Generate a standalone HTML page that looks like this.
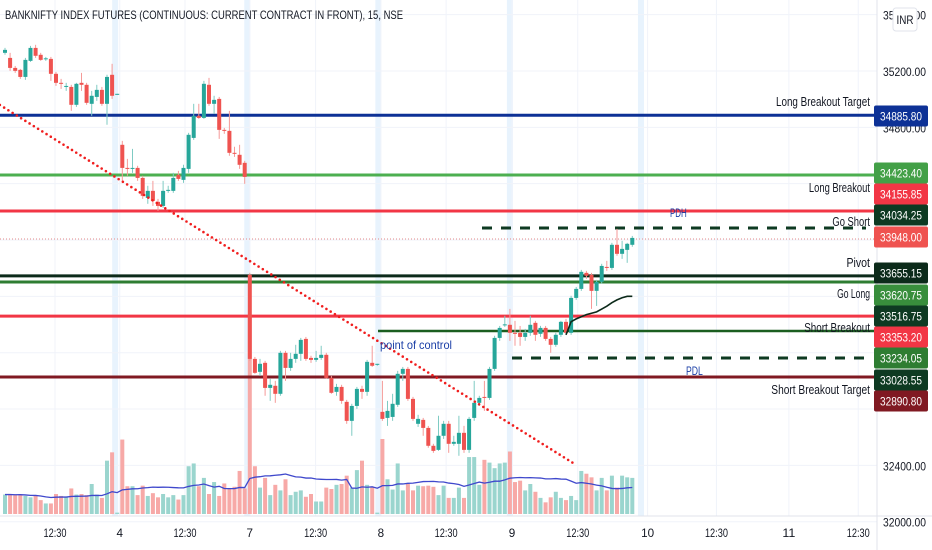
<!DOCTYPE html>
<html><head><meta charset="utf-8"><style>
html,body{margin:0;padding:0;background:#fff;}
body{width:932px;height:550px;overflow:hidden;font-family:"Liberation Sans",sans-serif;}
svg{display:block}
</style></head><body>
<svg id="chart" width="932" height="550" viewBox="0 0 932 550" xmlns="http://www.w3.org/2000/svg">
<g id="grid"></g>
<g id="vol"></g>
<g id="levels"></g>
<g id="candles"></g>
<g id="overlay"></g>
<g id="axis"></g>
<text x="5" y="19" font-size="12" fill="#131722" textLength="398" lengthAdjust="spacingAndGlyphs">BANKNIFTY INDEX FUTURES (CONTINUOUS: CURRENT CONTRACT IN FRONT), 15, NSE</text>
</svg>
<script>
const opens=[35329,35293,35222,35208,35158,35272,35364,35315,35283,35286,35180,35116,35087,35087,34960,35116,35102,34967,35016,35066,34967,35173,35031,
34676,34512,34505,34512,34441,34299,34349,34271,34242,34349,34349,34463,34427,34505,34725,34882,34867,35102,34967,35002,34782,34775,34619,34605,34548,
33753,33156,33064,33128,32950,32965,32908,33199,33092,33156,33192,33298,33163,33149,33163,33185,33021,32922,32957,32851,32716,32822,32943,32922,33128,33114,
32780,32737,32744,32830,33050,33085,32872,32695,32723,32666,32539,32510,32610,32695,32553,32553,32631,32510,32737,32844,32886,32879,33085,33305,33394,
33398,33341,33341,33312,33341,33412,33334,33376,33298,33256,33327,33419,33341,33589,33653,33767,33753,33639,33703,33809,33802,33966,33902,33930,33966];
const closes=[35350,35222,35201,35158,35279,35364,35308,35279,35290,35180,35116,35109,35094,34960,35109,35102,34974,35024,35066,34967,35158,35024,35038,
34512,34505,34512,34441,34314,34349,34278,34242,34349,34356,34441,34434,34512,34747,34882,34867,35109,34967,34995,34782,34775,34619,34612,34534,34448,
33156,33057,33121,32950,32972,32908,33199,33092,33156,33192,33291,33156,33149,33163,33185,33021,32915,32957,32858,32716,32822,32943,32922,33135,33107,33121,
32730,32787,32837,33050,33085,32872,32730,32730,32666,32539,32503,32610,32695,32553,32567,32631,32510,32730,32844,32879,32879,33085,33305,33376,33401,
33341,33334,33312,33341,33398,33327,33376,33298,33256,33327,33419,33341,33589,33653,33774,33746,33639,33703,33816,33802,33966,33902,33937,33973,34015];
const highs=[35364,35329,35236,35215,35293,35378,35386,35329,35300,35300,35194,35144,35116,35102,35116,35187,35116,35059,35102,35087,35173,35251,35038,
34704,34576,34647,34527,34456,34385,34420,34292,34420,34385,34477,34491,34534,34761,34967,34967,35130,35151,35024,35016,34796,34917,34662,34676,34562,
33767,33170,33156,33142,33014,33000,33213,33213,33199,33256,33305,33312,33178,33213,33249,33199,33035,32979,32972,32865,32837,32957,32965,33149,33249,33121,
33000,32858,32908,33071,33099,33099,32886,32759,32737,32680,32553,32752,32716,32716,32610,32752,32680,32744,33000,32894,33000,33099,33320,33390,33462,
33511,33426,33390,33369,33462,33426,33390,33390,33312,33341,33426,33440,33604,33667,33788,33781,33767,33717,33831,33852,33980,34079,33994,33980,34029];
const lows=[35315,35201,35187,35144,35137,35265,35293,35272,35272,35130,35094,35073,35059,34917,34945,35059,34960,34882,34988,34953,34818,35002,35031,
34420,34456,34477,34420,34292,34257,34242,34207,34228,34335,34335,34420,34406,34477,34711,34860,34860,34953,34896,34718,34754,34598,34590,34505,34399,
33142,33050,33035,32894,32858,32844,32894,33000,33071,33128,33142,33142,33128,33135,33149,33014,32908,32894,32837,32695,32610,32801,32872,32894,33099,33107,
32716,32680,32716,32815,33000,32858,32716,32673,32610,32525,32489,32503,32588,32489,32539,32468,32489,32489,32716,32822,32787,32865,33071,33284,33383,
33284,33249,33249,33284,33320,33284,33312,33284,33199,33242,33312,33327,33327,33575,33639,33724,33511,33532,33689,33781,33788,33888,33866,33838,33952];
const volumes=[70,70,68,70,65,60,65,50,38,38,72,65,62,92,70,72,68,108,70,58,192,222,5,
268,100,100,68,102,65,75,60,72,60,68,52,68,172,182,100,130,72,115,65,110,92,98,155,92,
715,172,95,130,68,105,85,125,68,80,85,62,72,45,45,95,90,105,108,138,95,158,192,105,98,5,
270,125,88,182,85,108,85,102,100,102,98,68,102,58,58,95,58,205,205,105,195,185,165,182,185,
225,115,120,85,108,80,58,42,60,80,58,50,65,50,155,145,132,85,130,85,138,95,138,132,130];
const vwapIdx=[110,111,112,113,114,115,116,117,118,119,120,121,122,123];
const vwapVals=[33327,33420,33440,33455,33470,33480,33490,33510,33530,33555,33575,33590,33600,33600];
const trendIdx=[-1,112];
const trendVals=[34959,32403];
const priceTicks=[35600,35200,34800,32400,32000];
const timeTicks=["12:30","4","12:30","7","12:30","8","12:30","9","12:30","10","12:30","11","12:30"];
const timeTickIdx=[9.8,22.5,35.3,48,60.9,73.7,86.5,99.4,112.3,126,139.5,153.7,167.3];
const dayBreakIdx=[21.6,47.5,73.2,99,124.7];
const gridPrices=[35600,35200,34800,34400,34000,33600,33200,32800,32400,32000];
const levelPrices=[34885.8,34462,34206,33745,33702,33460,33027];
const levelColors=["#0d3196","#4caf50","#f23645","#0c2a1a","#2e7d32","#f23645","#801922"];
const pocPrice=33354, pdhPrice=34085, pdlPrice=33162, lastPrice=34007;
const tagTexts=["34885.80","34423.40","34155.85","34034.25","33948.00","33655.15","33620.75","33516.75","33353.20","33234.05","33028.55","32890.80"];
const tagColors=["#0d3196","#43a047","#f23645","#0e3a22","#ef5350","#0c2a1a","#388e3c","#0e3a22","#f23645","#2e7d32","#0e3a22","#801922"];
const tagY=[116,173,194,215,237,273,295,316,337,358,380,401];
const lineLabels=["Long Breakout Target","Long Breakout","Go Short","Pivot","Go Long","Short Breakout","Short Breakout Target"];
const lineLabelY=[106,192,226,267,298,332,394];

const NS="http://www.w3.org/2000/svg";
const PLOT_R=877;
function X(i){return 5+i*5.1;}
function Y(p){return 71+(35200-p)/7.1;}
function VY(v){return 514-v/3.6;}
function mk(tag,attrs,parent){const e=document.createElementNS(NS,tag);for(const k in attrs)e.setAttribute(k,attrs[k]);parent.appendChild(e);return e;}
const grid=document.getElementById('grid'),vol=document.getElementById('vol'),lv=document.getElementById('levels'),cg=document.getElementById('candles'),ov=document.getElementById('overlay'),ax=document.getElementById('axis');

dayBreakIdx.forEach(d=>{const r=mk('rect',{x:X(d)-3,y:0,width:6,height:516,fill:'#e8f3fd'},grid);

});
timeTickIdx.forEach(t=>{const l=mk('line',{x1:X(t),x2:X(t),y1:0,y2:516,stroke:'#f0f3fa','stroke-width':1},grid);

});
gridPrices.forEach(p=>{const l=mk('line',{x1:0,x2:PLOT_R,y1:Y(p),y2:Y(p),stroke:'#f0f3fa','stroke-width':1},grid);

});

volumes.forEach((v,i)=>{const up=closes[i]>=opens[i];
const r=mk('rect',{x:X(i)-2,y:VY(v),width:4,height:v/3.6,fill:up?'#9ad5ce':'#f7a9a7'},vol);

});
let pts=[];for(let i=0;i<volumes.length;i++){const s=Math.max(0,i-19);let sum=0;for(let j=s;j<=i;j++)sum+=volumes[j];pts.push(X(i)+','+VY(sum/(i-s+1)));}
const vma=mk('polyline',{points:pts.join(' '),fill:'none',stroke:'#3f48cc','stroke-width':1.3},vol);



levelPrices.forEach((p,k)=>{const l=mk('line',{x1:0,x2:PLOT_R,y1:Y(p),y2:Y(p),stroke:levelColors[k],'stroke-width':3},lv);

});
let e;
e=mk('line',{x1:378,x2:PLOT_R,y1:Y(pocPrice),y2:Y(pocPrice),stroke:'#1b5e20','stroke-width':2.5},lv);


e=mk('line',{x1:482,x2:866,y1:Y(pdhPrice),y2:Y(pdhPrice),stroke:'#0e3a22','stroke-width':3,'stroke-dasharray':'10 9'},lv);


e=mk('line',{x1:512,x2:866,y1:Y(pdlPrice),y2:Y(pdlPrice),stroke:'#0e3a22','stroke-width':3,'stroke-dasharray':'10 9'},lv);


e=mk('line',{x1:0,x2:PLOT_R,y1:Y(lastPrice),y2:Y(lastPrice),stroke:'#e58a8a','stroke-width':1,'stroke-dasharray':'1 2'},lv);



opens.forEach((o,i)=>{const c=closes[i],up=c>=o,col=up?'#26a69a':'#ef5350';
const w=mk('line',{x1:X(i),x2:X(i),y1:Y(highs[i]),y2:Y(lows[i]),stroke:up?'#7fcbc3':'#f59a98','stroke-width':1},cg);


const top=Y(Math.max(o,c)),h=Math.max(1,Y(Math.min(o,c))-top);
const b=mk('rect',{x:X(i)-2,y:top,width:4,height:h,fill:col},cg);

});

e=mk('line',{x1:X(trendIdx[0]),y1:Y(trendVals[0]),x2:X(trendIdx[1]),y2:Y(trendVals[1]),stroke:'#f01e1e','stroke-width':2.6,'stroke-dasharray':'0 5','stroke-linecap':'round'},ov);


e=mk('polyline',{points:vwapIdx.map((v,k)=>X(v)+','+Y(vwapVals[k])).join(' '),fill:'none',stroke:'#0c2a1a','stroke-width':1.6},ov);



lineLabels.forEach((t,k)=>{const tx=mk('text',{x:870,y:lineLabelY[k],'text-anchor':'end','font-size':12.5,fill:'#131722',textLength:t.length*4.7,lengthAdjust:'spacingAndGlyphs'},ov);tx.textContent=t;

});
[['PDH',670,217,'#1a3ea6'],['PDL',686,375,'#1a3ea6'],['point of control',380,349,'#1a3ea6']].forEach(a=>{const tx=mk('text',{x:a[1],y:a[2],'font-size':12,fill:a[3],textLength:a[0].length*(a[0].length>5?4.5:5.6),lengthAdjust:'spacingAndGlyphs'},ov);tx.textContent=a[0];

});

e=mk('line',{x1:PLOT_R,x2:PLOT_R,y1:0,y2:550,stroke:'#e0e3eb'},ax);


e=mk('line',{x1:0,x2:932,y1:516,y2:516,stroke:'#e0e3eb'},ax);


priceTicks.forEach(p=>{const tx=mk('text',{x:883,y:Y(p)+5,'font-size':12,fill:'#131722',textLength:43,lengthAdjust:'spacingAndGlyphs'},ax);tx.textContent=p.toFixed(2);

});
timeTicks.forEach((t,k)=>{const tx=mk('text',{x:X(timeTickIdx[k]),y:537,'text-anchor':'middle','font-size':12,fill:'#131722',textLength:t.length>2?23:(t.length*6.5),lengthAdjust:'spacingAndGlyphs'},ax);tx.textContent=t;

});
tagTexts.forEach((t,k)=>{const g=mk('g',{},ax);


mk('rect',{x:874,y:tagY[k]-10.5,width:54,height:21,rx:2,fill:tagColors[k]},g);
const tx=mk('text',{x:880,y:tagY[k]+4.5,'font-size':12,fill:'#fff',textLength:42,lengthAdjust:'spacingAndGlyphs'},g);tx.textContent=t;});
const ib=mk('g',{},ax);


mk('rect',{x:893,y:8,width:24,height:23,rx:3,fill:'#fff',stroke:'#e0e3eb'},ib);
const it=mk('text',{x:905,y:24,'text-anchor':'middle','font-size':12,fill:'#131722',textLength:17,lengthAdjust:'spacingAndGlyphs'},ib);it.textContent='INR';
</script>
</body></html>
